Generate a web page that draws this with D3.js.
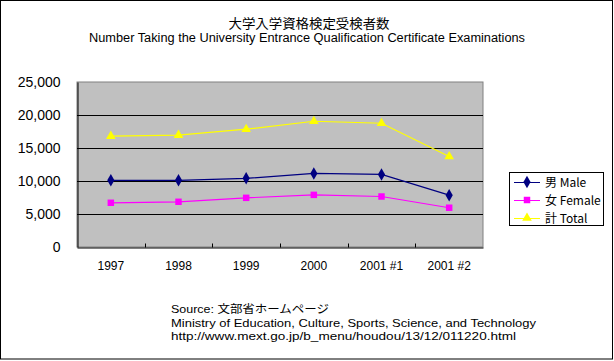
<!DOCTYPE html>
<html>
<head>
<meta charset="utf-8">
<script src="https://cdn.jsdelivr.net/npm/d3@7"></script>
<style>
  body { margin: 0; background: #fff; }
  text { font-family: "Liberation Sans", "Noto Sans CJK JP", Arial, sans-serif; }
  .jp { font-family: "Noto Sans CJK JP", sans-serif; }
</style>
</head>
<body>
<div id="chart"></div>
<script>
// data
const years = ["1997", "1998", "1999", "2000", "2001 #1", "2001 #2"];
const male = [10100, 10100, 10400, 11150, 11000, 7850];
const female = [6700, 6850, 7450, 7900, 7650, 5950];
const total = [16800, 16950, 17850, 19050, 18750, 13700];
const yTicks = [0, 5000, 10000, 15000, 20000, 25000];
const seriesNames = ["男 Male", "女 Female", "計 Total"];
const sourceLines = [
  "Source: 文部省ホームページ",
  "Ministry of Education, Culture, Sports, Science, and Technology",
  "http://www.mext.go.jp/b_menu/houdou/13/12/011220.html"
];
const sourceWidths = [158, 365, 345]; // measured text widths

const W = 614, H = 361;
const plot = {left: 77, top: 82, right: 483, bottom: 247};

let svg = d3.select("#chart")
  .append("svg")
  .attr("width", W)
  .attr("height", H);

// outer frame
svg.append("rect")
  .attr("x", 0.5).attr("y", 0.5)
  .attr("width", 612).attr("height", 358.5)
  .attr("fill", "#fff")
  .attr("stroke", "#000");

// titles
svg.append("text")
  .attr("class", "jp")
  .attr("x", 309).attr("y", 28)
  .attr("text-anchor", "middle")
  .attr("textLength", 161)
  .attr("lengthAdjust", "spacingAndGlyphs")
  .style("font-size", "13px")
  .text("大学入学資格検定受検者数");
svg.append("text")
  .attr("x", 307).attr("y", 42)
  .attr("text-anchor", "middle")
  .attr("textLength", 436)
  .attr("lengthAdjust", "spacingAndGlyphs")
  .style("font-size", "12px")
  .text("Number Taking the University Entrance Qualification Certificate Examinations");

// scales
let x = d3.scaleBand()
  .domain(years)
  .range([plot.left, plot.right]);
let y = d3.scaleLinear()
  .domain([0, 25000])
  .range([plot.bottom, plot.top]);

// plot background
svg.append("rect")
  .attr("x", plot.left).attr("y", plot.top)
  .attr("width", plot.right - plot.left)
  .attr("height", plot.bottom - plot.top)
  .attr("fill", "#c0c0c0")
  .attr("stroke", "#808080");

// gridlines
svg.append("g")
  .selectAll("line")
  .data(yTicks.slice(1, -1))
  .enter().append("line")
  .attr("x1", plot.left).attr("x2", plot.right)
  .attr("y1", d => Math.round(y(d)) + 0.5)
  .attr("y2", d => Math.round(y(d)) + 0.5)
  .attr("stroke", "#000");

// y axis
let yAxis = svg.append("g")
  .attr("transform", `translate(${plot.left + 0.5},0)`)
  .call(d3.axisLeft(y).tickValues(yTicks).tickSize(0).tickPadding(17)
    .tickFormat(d3.format(",")));
yAxis.select(".domain").attr("stroke", "#000");
yAxis.selectAll("text")
  .style("font-size", "14px")
  .style("font-family", "'Liberation Sans', Arial, sans-serif")
  .attr("fill", "#000");

// x axis (ticks inside the plot, at band edges)
let xAxis = svg.append("g")
  .attr("transform", `translate(0,${plot.bottom + 0.5})`)
  .call(d3.axisBottom(x).tickSize(0).tickPadding(14));
xAxis.select(".domain").attr("stroke", "#000");
xAxis.selectAll("text")
  .style("font-size", "12px")
  .style("font-family", "'Liberation Sans', Arial, sans-serif")
  .attr("fill", "#000");
xAxis.selectAll(".edge")
  .data(years.slice(1))
  .enter().append("line")
  .attr("x1", d => Math.round(x(d)) + 0.5)
  .attr("x2", d => Math.round(x(d)) + 0.5)
  .attr("y1", 0).attr("y2", -4)
  .attr("stroke", "#000");

// series
const series = [
  {name: seriesNames[0], values: male, color: "#000080", symbol: d3.symbolDiamond, size: 45},
  {name: seriesNames[1], values: female, color: "#ff00ff", symbol: d3.symbolSquare, size: 42},
  {name: seriesNames[2], values: total, color: "#ffff00", symbol: d3.symbolTriangle, size: 40}
];

let line = d3.line()
  .x((d, i) => x(years[i]) + x.bandwidth() / 2)
  .y(d => y(d));

series.forEach(s => {
  svg.append("path")
    .datum(s.values)
    .attr("d", line)
    .attr("fill", "none")
    .attr("stroke", s.color)
    .attr("stroke-width", 1.2);

  svg.append("g")
    .selectAll("path")
    .data(s.values)
    .enter().append("path")
    .attr("transform", (d, i) => `translate(${x(years[i]) + x.bandwidth() / 2},${y(d)})`)
    .attr("d", d3.symbol().type(s.symbol).size(s.size))
    .attr("fill", s.color);
});

// legend
let legend = svg.append("g");
legend.append("rect")
  .attr("x", 509.5).attr("y", 172.5)
  .attr("width", 94).attr("height", 53)
  .attr("fill", "#fff")
  .attr("stroke", "#000");

series.forEach((s, i) => {
  let ly = 182 + i * 18;
  legend.append("line")
    .attr("x1", 514).attr("x2", 540)
    .attr("y1", ly + 0.5).attr("y2", ly + 0.5)
    .attr("stroke", s.color);
  legend.append("path")
    .attr("transform", `translate(527,${ly})`)
    .attr("d", d3.symbol().type(s.symbol).size(s.size))
    .attr("fill", s.color);
  legend.append("text")
    .attr("class", "jp")
    .attr("x", 545).attr("y", ly + 5)
    .style("font-size", "12px")
    .text(s.name);
});

// source note
svg.append("g")
  .selectAll("text")
  .data(sourceLines)
  .enter().append("text")
  .attr("x", 171)
  .attr("y", (d, i) => 313 + i * 13.5)
  .attr("textLength", (d, i) => sourceWidths[i])
  .attr("lengthAdjust", "spacingAndGlyphs")
  .style("font-size", "11.5px")
  .text(d => d);
</script>
</body>
</html>
